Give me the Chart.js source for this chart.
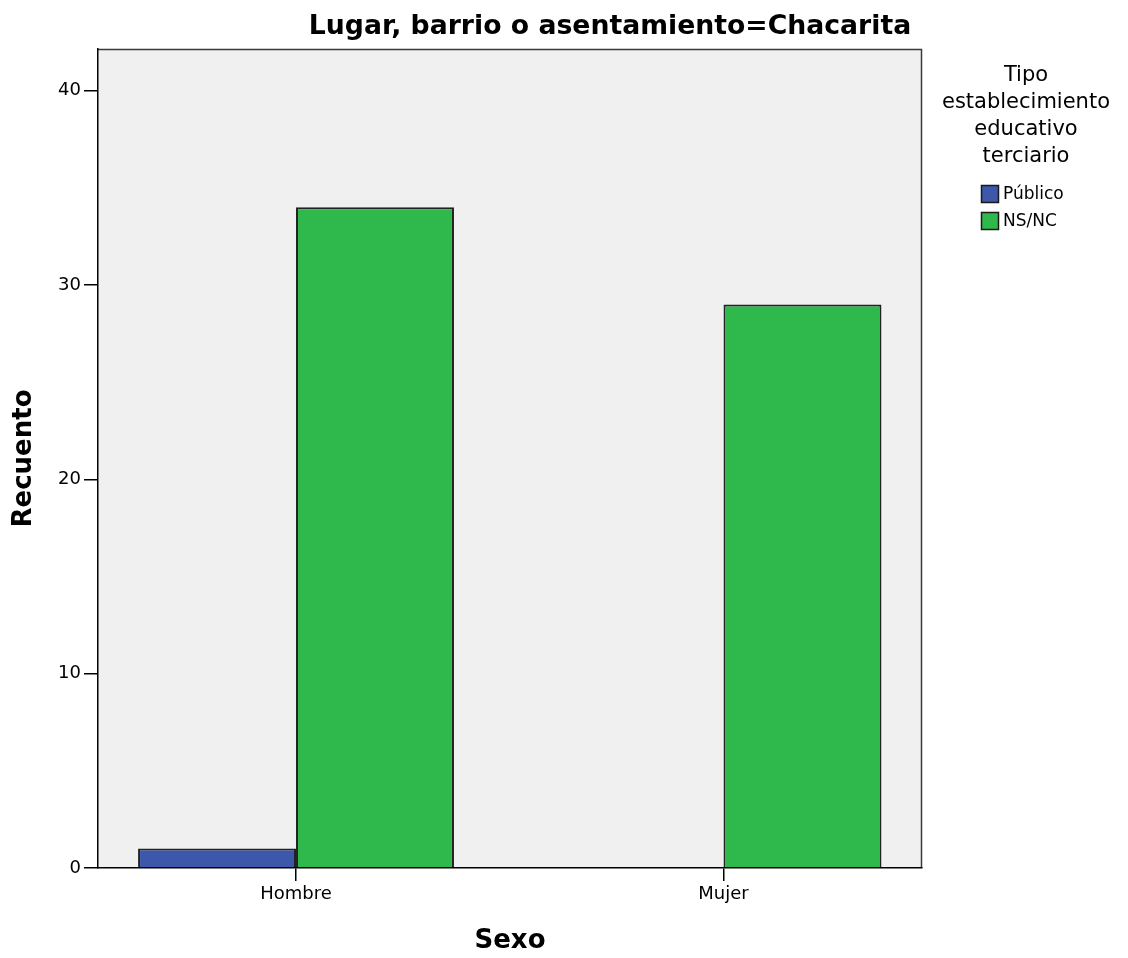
<!DOCTYPE html>
<html>
<head>
<meta charset="utf-8">
<script src="https://cdn.jsdelivr.net/npm/chart.js@4.4.1/dist/chart.umd.min.js"></script>
<style>
  html, body { margin: 0; padding: 0; background: #fff; }
  #wrap { width: 1128px; height: 958px; }
</style>
</head>
<body>
<div id="wrap"><canvas id="grafico"></canvas></div>
<script>
var categorias = ['Hombre', 'Mujer'];
var publico = [1, 0];
var nsnc = [34, 29];
var yTicks = [0, 10, 20, 30, 40];
var titulo = 'Lugar, barrio o asentamiento=Chacarita';
var tituloLeyenda = ['Tipo', 'establecimiento', 'educativo', 'terciario'];

var FONT = "'DejaVu Sans', sans-serif";

function puntos(vals) {
    return vals.map(function (v, i) { return { x: i, y: v }; });
}

// fondo gris del panel y borde superior/derecho
var panel = {
    id: 'panel',
    beforeDraw: function (chart) {
        var a = chart.chartArea, ctx = chart.ctx;
        ctx.save();
        ctx.fillStyle = '#f0f0f0';
        ctx.fillRect(a.left, a.top, a.right - a.left, a.bottom - a.top);
        ctx.strokeStyle = '#3a3a3a';
        ctx.lineWidth = 1.5;
        ctx.beginPath();
        ctx.moveTo(a.left, a.top + 0.5);
        ctx.lineTo(a.right - 0.5, a.top + 0.5);
        ctx.lineTo(a.right - 0.5, a.bottom);
        ctx.stroke();
        ctx.restore();
    },
    afterDraw: function (chart) {
        var ctx = chart.ctx;
        ctx.save();
        // titulo
        ctx.fillStyle = '#000';
        ctx.font = 'bold 26.7px ' + FONT;
        ctx.textAlign = 'center';
        ctx.textBaseline = 'middle';
        ctx.fillText(titulo, 610, 27);
        // leyenda
        ctx.font = '21px ' + FONT;
        tituloLeyenda.forEach(function (t, i) {
            ctx.fillText(t, 1026, 76 + i * 26.7);
        });
        ctx.font = '17px ' + FONT;
        ctx.textAlign = 'left';
        chart.data.datasets.forEach(function (ds, i) {
            var y = 185 + i * 27;
            ctx.fillStyle = ds.backgroundColor;
            ctx.fillRect(981, y, 18, 18);
            ctx.strokeStyle = '#1a1a1a';
            ctx.lineWidth = 1.5;
            ctx.strokeRect(981.5, y + 0.5, 17, 17);
            ctx.fillStyle = '#000';
            ctx.fillText(ds.label, 1003, y + 10);
        });
        ctx.restore();
    }
};

var ctx = document.getElementById('grafico').getContext('2d');
var grafico = new Chart(ctx, {
    type: 'bar',
    data: {
        datasets: [
            {
                label: 'Público',
                data: puntos(publico),
                backgroundColor: '#3d57aa',
                borderColor: '#222',
                borderWidth: 2,
                categoryPercentage: 0.739,
                barPercentage: 1.0
            },
            {
                label: 'NS/NC',
                data: puntos(nsnc),
                backgroundColor: '#2fb84b',
                borderColor: '#222',
                borderWidth: 2,
                categoryPercentage: 0.739,
                barPercentage: 1.0
            }
        ]
    },
    options: {
        responsive: true,
        maintainAspectRatio: false,
        animation: false,
        layout: { padding: { top: 49, right: 206, left: 0, bottom: 0 } },
        plugins: {
            legend: { display: false },
            tooltip: { enabled: false }
        },
        scales: {
            x: {
                type: 'linear',
                offset: false,
                min: -0.4632,
                max: 1.4643,
                afterBuildTicks: function (scale) {
                    scale.ticks = categorias.map(function (c, i) { return { value: i }; });
                },
                afterFit: function (scale) { scale.height = 90; },
                grid: { offset: false, drawOnChartArea: false, drawTicks: true, tickLength: 13, color: '#000', lineWidth: 1.5 },
                border: { display: true, color: '#000', width: 1.5 },
                ticks: {
                    color: '#000',
                    font: { family: FONT, size: 18 },
                    padding: 3,
                    maxRotation: 0,
                    callback: function (v) { return categorias[v]; }
                },
                title: {
                    display: true,
                    text: 'Sexo',
                    color: '#000',
                    font: { family: FONT, size: 26, weight: 'bold' },
                    padding: { top: 0, bottom: 1 }
                }
            },
            y: {
                min: 0,
                max: 42.15,
                afterBuildTicks: function (scale) {
                    scale.ticks = yTicks.map(function (v) { return { value: v }; });
                },
                afterFit: function (scale) { scale.width = 98; },
                grid: { drawOnChartArea: false, drawTicks: true, tickLength: 14, color: '#000', lineWidth: 1.5 },
                border: { display: true, color: '#000', width: 1.5 },
                ticks: {
                    color: '#000',
                    font: { family: FONT, size: 18 },
                    padding: 3
                },
                title: {
                    display: true,
                    text: 'Recuento',
                    color: '#000',
                    font: { family: FONT, size: 26, weight: 'bold' },
                    padding: { top: 9, bottom: 0 }
                }
            }
        }
    },
    plugins: [panel]
});
</script>
</body>
</html>
